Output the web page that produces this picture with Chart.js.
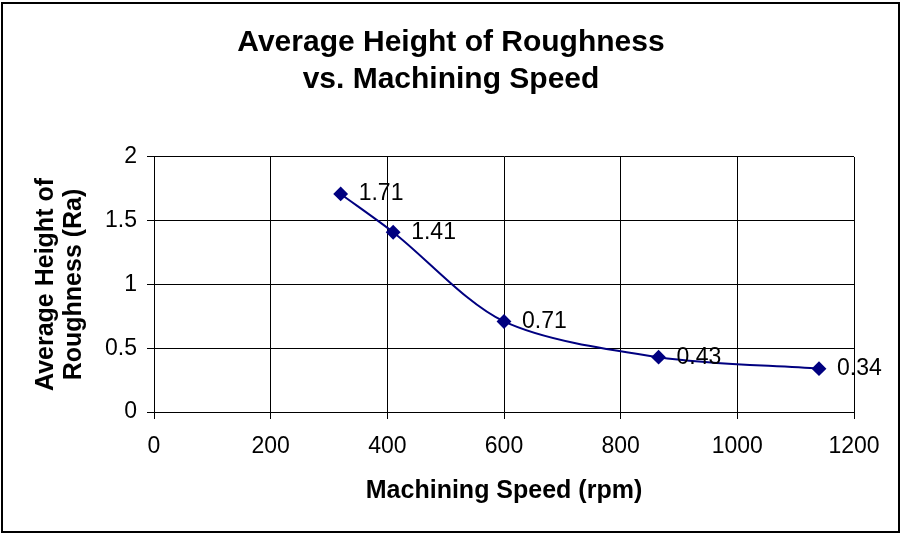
<!DOCTYPE html>
<html>
<head>
<meta charset="utf-8">
<title>Average Height of Roughness vs. Machining Speed</title>
<script src="https://cdn.jsdelivr.net/npm/chart.js@4"></script>
<style>
    html, body { margin: 0; padding: 0; background: #ffffff; }
    #wrap { width: 902px; height: 533px; }
</style>
</head>
<body>
<div id="wrap"><canvas id="roughnessChart" width="902" height="533"></canvas></div>
<script>
// Measured roughness at each machining speed
const speeds = [320, 410, 600, 865, 1140];
const roughness = [1.71, 1.41, 0.71, 0.43, 0.34];

// Axis ticks
const xTicks = [0, 200, 400, 600, 800, 1000, 1200];
const yTicks = [0, 0.5, 1, 1.5, 2];

const FONT = '"Liberation Sans", Arial, sans-serif';

// Value label to the right of every point
const pointLabels = {
    id: 'pointLabels',
    afterDatasetsDraw(chart) {
        const ctx = chart.ctx;
        const meta = chart.getDatasetMeta(0);
        ctx.save();
        ctx.font = '23px ' + FONT;
        ctx.fillStyle = '#000000';
        ctx.textAlign = 'left';
        ctx.textBaseline = 'middle';
        meta.data.forEach((pt, i) => {
            ctx.fillText(String(roughness[i]), pt.x + 18, pt.y);
        });
        ctx.restore();
    }
};

// Frame round the whole chart
const outerFrame = {
    id: 'outerFrame',
    afterDraw(chart) {
        const ctx = chart.ctx;
        ctx.save();
        ctx.strokeStyle = '#000000';
        ctx.lineWidth = 2;
        ctx.strokeRect(2, 3, 897, 529);
        ctx.restore();
    }
};

const ctx = document.getElementById('roughnessChart').getContext('2d');
new Chart(ctx, {
    type: 'scatter',
    data: {
        datasets: [{
            label: 'Ra',
            data: speeds.map((s, i) => ({ x: s, y: roughness[i] })),
            showLine: true,
            borderColor: '#000080',
            backgroundColor: '#000080',
            borderWidth: 2,
            tension: 0.3,
            pointStyle: 'rectRot',
            pointRadius: 6,
            pointHoverRadius: 6
        }]
    },
    options: {
        responsive: false,
        animation: false,
        events: [],
        layout: {
            padding: 0
        },
        plugins: {
            legend: { display: false },
            tooltip: { enabled: false },
            title: {
                display: true,
                text: ['Average Height of Roughness', 'vs. Machining Speed'],
                color: '#000000',
                font: { family: FONT, size: 30, weight: 'bold', lineHeight: 1.233 },
                padding: { top: 24, bottom: 59 }
            }
        },
        scales: {
            x: {
                type: 'linear',
                min: 0,
                max: 1200,
                afterBuildTicks: (scale) => { scale.ticks = xTicks.map(v => ({ value: v })); },
                afterFit: (scale) => { scale.height = 121; },
                ticks: {
                    color: '#000000',
                    font: { family: FONT, size: 23 },
                    padding: 14,
                    maxRotation: 0,
                    callback: (v) => String(v)
                },
                grid: { color: '#000000', lineWidth: 1, tickLength: 7, drawTicks: true },
                border: { color: '#000000', width: 1 },
                title: {
                    display: true,
                    text: 'Machining Speed (rpm)',
                    color: '#000000',
                    font: { family: FONT, size: 25, weight: 'bold', lineHeight: 1.12 },
                    padding: { top: 0, bottom: 28 }
                }
            },
            y: {
                type: 'linear',
                min: 0,
                max: 2,
                afterBuildTicks: (scale) => { scale.ticks = yTicks.map(v => ({ value: v })); },
                afterFit: (scale) => { scale.width = 154; },
                ticks: {
                    color: '#000000',
                    font: { family: FONT, size: 23 },
                    padding: 10,
                    callback: (v) => String(v)
                },
                grid: { color: '#000000', lineWidth: 1, tickLength: 7, drawTicks: true },
                border: { color: '#000000', width: 1 },
                title: {
                    display: true,
                    text: ['Average Height of', 'Roughness (Ra)'],
                    color: '#000000',
                    font: { family: FONT, size: 25, weight: 'bold', lineHeight: 1.12 },
                    padding: { top: 32, bottom: 0 }
                }
            },
            // empty strip on the right so the title stays centred on the page
            rightGap: {
                type: 'linear',
                position: 'right',
                min: 0,
                max: 2,
                afterFit: (scale) => { scale.width = 48; },
                ticks: { display: false },
                grid: { display: false, drawTicks: false },
                border: { display: false }
            }
        }
    },
    plugins: [pointLabels, outerFrame]
});
</script>
</body>
</html>
